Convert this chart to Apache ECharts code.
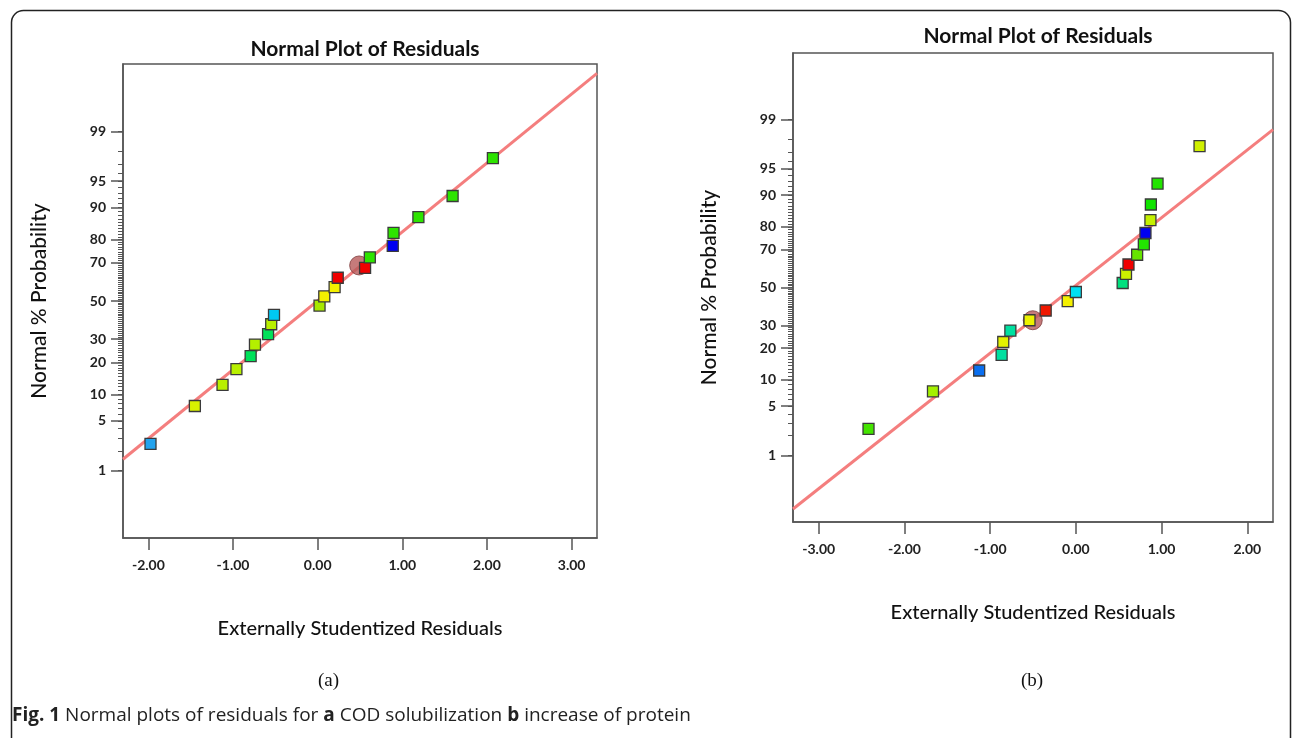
<!DOCTYPE html>
<html>
<head>
<meta charset="utf-8">
<script src="https://cdn.jsdelivr.net/npm/echarts@6/dist/echarts.min.js"></script>
<style>
html, body { margin: 0; padding: 0; background: #fff; }
#main { width: 1292px; height: 738px; }
</style>
</head>
<body>
<div id="main"></div>
<script>
// probability axis labels (percent) and residual axis labels
var probTicks = [1, 5, 10, 20, 30, 50, 70, 80, 90, 95, 99];
var residTicksA = [-2, -1, 0, 1, 2, 3];
var residTicksB = [-3, -2, -1, 0, 1, 2];

// (a) COD solubilization
var residA = [-1.975, -1.451, -1.124, -0.96, -0.792, -0.741, -0.586, -0.549, -0.516, 0.022,
              0.078, 0.2, 0.237, 0.56, 0.616, 0.887, 0.896, 1.19, 1.594, 2.07];
var pctA = [2.5, 7.5, 12.5, 17.5, 22.5, 27.5, 32.5, 37.5, 42.5, 47.5,
            52.5, 57.5, 62.5, 67.5, 72.5, 77.5, 82.5, 87.5, 92.5, 97.5];
var markA = [[0.49, 68.7]];
var fitA = { resid: [-2.3, 3.3], pct: [1.5, 99.91] };

// (b) increase of protein
var residB = [-2.419, -1.667, -1.128, -0.866, -0.847, -0.764, -0.541, -0.352, -0.095, 0.0,
              0.546, 0.585, 0.614, 0.715, 0.793, 0.812, 0.87, 0.875, 0.953, 1.443];
var pctB = [2.5, 7.5, 12.5, 17.5, 22.5, 27.5, 32.5, 37.5, 42.5, 47.5,
            52.5, 57.5, 62.5, 67.5, 72.5, 77.5, 82.5, 87.5, 92.5, 97.5];
var markB = [[-0.503, 32.5]];
var fitB = { resid: [-3.3, 2.3], pct: [0.107, 98.57] };

// point colours (design-expert colouring by run)
var colorsA = ['#23a3ee', '#d8f200', '#b8f000', '#b8f000', '#00e25a', '#b4f000', '#00e25a', '#b8f000', '#00c8f2', '#a8e800',
               '#f4f000', '#f4f000', '#f00000', '#f00000', '#2ee400', '#0000f0', '#2ee400', '#2ee400', '#2ee400', '#2ee400'];
var colorsB = ['#44e400', '#a4f000', '#0a6ff0', '#00e0a0', '#e4f200', '#00e0a0', '#ecf200', '#f01800', '#f4f000', '#00e0f2',
               '#00e07e', '#ccf000', '#f00000', '#66e400', '#22e400', '#0000f0', '#c4f000', '#10e400', '#22e400', '#d0f000'];

// inverse normal cdf (Acklam) -> probability scale
function invNorm(p) {
    var a = [-3.969683028665376e+01, 2.209460984245205e+02, -2.759285104469687e+02, 1.383577518672690e+02, -3.066479806614716e+01, 2.506628277459239e+00];
    var b = [-5.447609879822406e+01, 1.615858368580409e+02, -1.556989798598866e+02, 6.680131188771972e+01, -1.328068155288572e+01];
    var c = [-7.784894002430293e-03, -3.223964580411365e-01, -2.400758277161838e+00, -2.549732539343734e+00, 4.374664141464968e+00, 2.938163982698783e+00];
    var d = [7.784695709041462e-03, 3.224671290700398e-01, 2.445134137142996e+00, 3.754408661907416e+00];
    var pl = 0.02425, q, r;
    if (p < pl) {
        q = Math.sqrt(-2 * Math.log(p));
        return (((((c[0]*q+c[1])*q+c[2])*q+c[3])*q+c[4])*q+c[5]) / ((((d[0]*q+d[1])*q+d[2])*q+d[3])*q+1);
    }
    if (p <= 1 - pl) {
        q = p - 0.5; r = q * q;
        return (((((a[0]*r+a[1])*r+a[2])*r+a[3])*r+a[4])*r+a[5])*q / (((((b[0]*r+b[1])*r+b[2])*r+b[3])*r+b[4])*r+1);
    }
    q = Math.sqrt(-2 * Math.log(1 - p));
    return -(((((c[0]*q+c[1])*q+c[2])*q+c[3])*q+c[4])*q+c[5]) / ((((d[0]*q+d[1])*q+d[2])*q+d[3])*q+1);
}
function zOf(pct) { return invNorm(pct / 100); }

var zTicks = probTicks.map(zOf);
var minorTicks = [];
for (var k = 1; k <= 99; k++) minorTicks.push(zOf(k));

var FONT = 'Lato';
var axisColor = '#555';

function probLabel(v) {
    for (var i = 0; i < zTicks.length; i++) {
        if (Math.abs(zTicks[i] - v) < 1e-6) return String(probTicks[i]);
    }
    return '';
}

function xAxisOf(grid, min, max, ticks) {
    return {
        gridIndex: grid, type: 'value', min: min, max: max,
        axisLine: { show: true, onZero: false, lineStyle: { color: axisColor, width: 1.5 } },
        axisTick: { show: true, length: 12, customValues: ticks, lineStyle: { color: axisColor, width: 1.5 } },
        axisLabel: { customValues: ticks, margin: 20, fontFamily: FONT, fontSize: 14, fontWeight: 'bold', color: '#222',
            formatter: function (v) { return v.toFixed(2); } },
        splitLine: { show: false },
        name: 'Externally Studentized Residuals', nameLocation: 'middle', nameGap: 81,
        nameTextStyle: { fontFamily: FONT, fontSize: 20, fontWeight: 500, color: '#111' }
    };
}
function yAxesOf(grid) {
    return [{
        gridIndex: grid, type: 'value', min: -3.25, max: 3.25,
        axisLine: { show: true, onZero: false, lineStyle: { color: axisColor, width: 1.5 } },
        axisTick: { show: true, length: 12, customValues: zTicks, lineStyle: { color: axisColor, width: 1.5 } },
        axisLabel: { customValues: zTicks, margin: 17, fontFamily: FONT, fontSize: 14, fontWeight: 'bold', color: '#222',
            formatter: probLabel },
        splitLine: { show: false },
        name: 'Normal % Probability', nameLocation: 'middle', nameGap: 73,
        nameTextStyle: { fontFamily: FONT, fontSize: 21, fontWeight: 500, color: '#111' }
    }, {
        gridIndex: grid, type: 'value', min: -3.25, max: 3.25, position: 'left', offset: 0,
        axisLine: { show: false, onZero: false },
        axisTick: { show: true, length: 5, customValues: minorTicks, lineStyle: { color: axisColor, width: 1 } },
        axisLabel: { show: false },
        splitLine: { show: false }
    }];
}

function pointsOf(resid, pct, colors) {
    return resid.map(function (x, i) {
        return { value: [x, zOf(pct[i])], itemStyle: { color: colors[i] } };
    });
}
function seriesOf(idx, resid, pct, colors, mark, fit) {
    return [{
        type: 'line', xAxisIndex: idx, yAxisIndex: idx * 2, silent: true, symbol: 'none', z: 2,
        lineStyle: { color: '#f47e7e', width: 3 },
        data: fit.resid.map(function (x, i) { return [x, zOf(fit.pct[i])]; })
    }, {
        type: 'scatter', xAxisIndex: idx, yAxisIndex: idx * 2, symbol: 'circle', symbolSize: 19, z: 3,
        itemStyle: { color: '#b65a5a', borderColor: '#7d3b3b', borderWidth: 1 },
        data: mark.map(function (m) { return [m[0], zOf(m[1])]; })
    }, {
        type: 'scatter', xAxisIndex: idx, yAxisIndex: idx * 2, symbol: 'rect', symbolSize: 11, z: 4,
        itemStyle: { borderColor: '#3a3a3a', borderWidth: 1.3, opacity: 1 },
        data: pointsOf(resid, pct, colors)
    }];
}

var chart = echarts.init(document.getElementById('main'));
chart.setOption({
    animation: false,
    backgroundColor: '#fff',
    title: [
        { text: 'Normal Plot of Residuals', left: 360, top: 34, textAlign: 'center',
          textStyle: { fontFamily: FONT, fontSize: 21, fontWeight: 'bold', color: '#111' } },
        { text: 'Normal Plot of Residuals', left: 1033, top: 21, textAlign: 'center',
          textStyle: { fontFamily: FONT, fontSize: 21, fontWeight: 'bold', color: '#111' } }
    ],
    grid: [
        { left: 123, top: 64, width: 474, height: 474, show: true, borderColor: axisColor, borderWidth: 1.5, backgroundColor: '#fff' },
        { left: 793, top: 53, width: 480, height: 469, show: true, borderColor: axisColor, borderWidth: 1.5, backgroundColor: '#fff' }
    ],
    xAxis: [xAxisOf(0, -2.3, 3.3, residTicksA), xAxisOf(1, -3.3, 2.3, residTicksB)],
    yAxis: yAxesOf(0).concat(yAxesOf(1)),
    series: seriesOf(0, residA, pctA, colorsA, markA, fitA).concat(seriesOf(1, residB, pctB, colorsB, markB, fitB)),
    graphic: [
        { type: 'rect', left: 9, top: 8, silent: true, z: -10,
          shape: { width: 1279, height: 760, r: 12 },
          style: { fill: 'none', stroke: '#222', lineWidth: 1.5 } },
        { type: 'text', left: 318, top: 672,
          style: { text: '(a)', font: '19px "Liberation Serif"', fill: '#111' } },
        { type: 'text', left: 1021, top: 672,
          style: { text: '(b)', font: '19px "Liberation Serif"', fill: '#111' } },
        { type: 'text', left: 12, top: 706,
          style: { text: '{b|Fig. 1} Normal plots of residuals for {b|a} COD solubilization {b|b} increase of protein',
                   font: '19px "Open Sans"', fill: '#222',
                   rich: { b: { fontWeight: 'bold', fontFamily: 'Open Sans', fontSize: 19, fill: '#222' } } } }
    ]
});
</script>
</body>
</html>
